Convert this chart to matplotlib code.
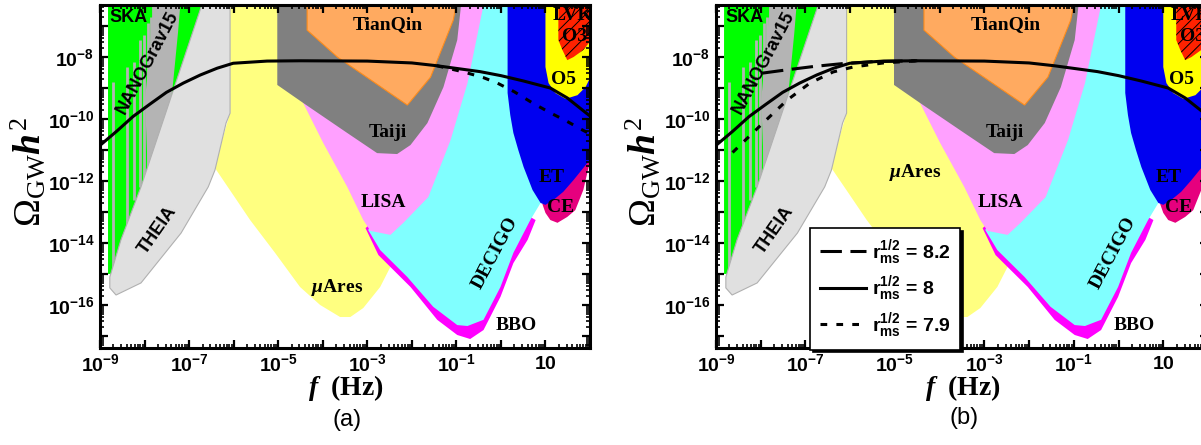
import numpy as np
import matplotlib
matplotlib.use("Agg")
import matplotlib.pyplot as plt
from matplotlib.ticker import LogLocator, FuncFormatter, NullFormatter

plt.rcParams["mathtext.fontset"] = "custom"
plt.rcParams["mathtext.rm"] = "Liberation Serif"
plt.rcParams["mathtext.it"] = "Liberation Serif:italic:bold"
plt.rcParams["mathtext.bf"] = "Liberation Serif:bold"
plt.rcParams["mathtext.sf"] = "Liberation Sans:bold"
plt.rcParams["hatch.linewidth"] = 0.7

# ---------------- sensitivity regions (log10 f [Hz], log10 Omega_GW h^2) ----------------
SKA_LF = [-8.82, -6.64, -8.73, -8.82]
SKA_LO = [-6.0, -6.0, -15.0, -15.0]

NANO_BAND_LF = [-7.76, -7.18, -7.25, -7.36, -7.47, -7.63, -7.76, -7.92, -7.99, -7.85]
NANO_BAND_LO = [-6.0, -6.0, -7.23, -8.84, -10.26, -11.32, -11.97, -11.97, -9.39, -7.23]
NANO_BIN_LF = [-8.70, -8.40, -8.23, -8.10, -8.01, -7.93, -7.86, -7.80, -7.75, -7.70, -7.66, -7.63, -7.59, -7.56]
NANO_BIN_TOP = [-8.81, -8.32, -8.15, -7.45, -7.30, -6.90, -6.70, -6.0, -6.0, -6.0, -6.0, -6.0, -6.0, -6.0]
NANO_BIN_BOT = [-15.10, -13.58, -12.60, -12.20, -11.90, -11.80, -11.70, -11.60, -11.50, -11.40, -11.30, -11.20, -11.00, -10.80]

THEIA_LF = [-6.64, -6.08, -6.08, -6.17, -6.42, -6.57, -7.18, -8.08, -8.64, -8.78, -8.78, -8.53, -8.08]
THEIA_LO = [-6.0, -6.0, -9.81, -10.13, -11.65, -12.19, -13.68, -15.29, -15.68, -15.45, -15.10, -13.90, -12.19]

MUARES_LF = [-6.08, -6.08, -6.26, -6.42, -6.01, -5.63, -5.07, -4.51, -4.06, -3.61, -3.38, -3.09,
             -2.71, -2.48, -2.26, -1.81, -1.36, -1.13]
MUARES_LO = [-6.0, -9.81, -10.68, -11.58, -12.45, -13.26, -14.32, -15.42, -16.0, -16.39, -16.39, -16.10,
             -15.42, -14.77, -14.13, -12.61, -10.03, -6.0]

LISA_LF = [-4.62, -4.44, -3.99, -3.45, -3.09, -2.93, -2.48, -2.19, -1.63, -1.13, -0.75, -0.39, -0.33]
LISA_LO = [-6.0, -9.48, -10.77, -12.19, -13.26, -13.61, -13.74, -13.35, -12.52, -10.68, -8.84, -6.32, -6.0]

TAIJI_LF = [-5.02, -5.02, -4.44, -3.45, -2.78, -2.33, -2.03, -1.65, -1.29, -0.98, -0.87]
TAIJI_LO = [-6.0, -8.90, -9.48, -10.45, -11.10, -11.13, -10.84, -10.13, -8.97, -7.45, -6.0]

TIANQIN_LF = [-4.35, -4.35, -3.67, -2.10, -1.58, -1.07, -0.96]
TIANQIN_LO = [-6.0, -7.13, -8.0, -9.55, -8.65, -6.81, -6.0]

DECIGO_LF = [-0.69, -1.36, -2.26, -2.98, -2.71, -2.10, -1.52, -0.98, -0.75, -0.39, -0.01, 0.28, 0.66, 0.89, 1.07, 1.16]
DECIGO_LO = [-6.0, -9.39, -11.97, -13.58, -14.23, -15.10, -16.06, -16.65, -16.68, -16.48, -15.42, -14.32, -13.26, -12.71, -11.0, -6.0]

BBO_LF = [-3.04, -2.75, -2.03, -1.43, -0.98, -0.69, -0.39, -0.01, 0.28, 0.60, 0.78, -0.01, -2.26]
BBO_LO = [-13.52, -14.39, -15.42, -16.48, -16.97, -17.10, -16.81, -15.74, -14.65, -13.90, -13.26, -12.61, -12.61]

ET_LF = [0.15, 0.15, 0.21, 0.28, 0.39, 0.51, 0.71, 0.89, 1.0, 1.18, 1.40, 1.63, 1.94, 2.24, 2.24]
ET_LO = [-6.0, -9.16, -9.87, -10.45, -11.0, -11.55, -12.29, -12.71, -12.77, -12.61, -12.35, -11.97, -11.42, -11.0, -6.0]

CE_LF = [0.93, 1.0, 1.11, 1.27, 1.49, 1.67, 1.85, 1.97, 2.24, 1.34]
CE_LO = [-12.74, -13.03, -13.26, -13.35, -13.16, -12.94, -12.29, -11.55, -11.0, -11.97]

O5_LF = [1.0, 1.0, 1.07, 1.22, 1.45, 1.72, 1.90, 2.01, 2.24, 2.24]
O5_LO = [-6.0, -8.32, -8.84, -9.16, -9.35, -9.23, -8.97, -8.65, -8.1, -6.0]

O3_LF = [1.29, 1.29, 1.38, 1.49, 1.63, 1.85, 1.97, 2.24, 2.24]
O3_LO = [-6.0, -7.45, -7.77, -8.10, -8.0, -7.77, -7.55, -7.13, -6.0]

# ---------------- spectra ----------------
SOLID_LF = [-9.0, -8.63, -8.26, -7.88, -7.51, -7.13, -6.75, -6.37, -6.01, -5.25, -4.5,
            -3.0, -2.0, -1.44, -0.47, 0.0, 0.5, 1.11, 1.49, 1.97, 2.05]
SOLID_LO = [-10.85, -10.40, -9.92, -9.52, -9.14, -8.84, -8.58, -8.36, -8.20, -8.13, -8.12,
            -8.13, -8.19, -8.28, -8.47, -8.60, -8.77, -9.0, -9.32, -9.87, -9.95]

DOTA_LF = [-1.44, -0.84, -0.4, -0.08, 0.3, 0.73, 1.11, 1.49, 1.8, 2.05]
DOTA_LO = [-8.28, -8.48, -8.66, -8.84, -9.12, -9.50, -9.80, -10.08, -10.33, -10.52]

DASH_B_LF = [-7.97, -7.35, -6.79, -6.16, -5.5, -4.88, -4.5]
DASH_B_LO = [-8.52, -8.40, -8.30, -8.21, -8.15, -8.13, -8.12]

DOT_B_LF = [-8.63, -7.95, -7.41, -6.90, -6.38, -5.93, -5.26, -4.5]
DOT_B_LO = [-11.08, -10.13, -9.39, -8.84, -8.48, -8.32, -8.19, -8.12]

R_LABELS = ["8.2", "8", "7.9"]

W, H = 1201, 445
fig = plt.figure(figsize=(W / 100, H / 100), dpi=100)


def p(v):
    return 10.0 ** np.asarray(v, dtype=float)


def region(ax, lf, lo, z, **kw):
    ax.fill(p(lf), p(lo), zorder=z, **kw)


def label(ax, s, lf, lo, serif=True, size=14, rot=0):
    fam = "Liberation Serif" if serif else "Liberation Sans"
    ax.text(p(lf), p(lo), s, family=fam, weight="bold", size=size, rotation=rot,
            ha="center", va="center", zorder=9, clip_on=True)


def xfmt(v, pos):
    e = int(round(np.log10(v)))
    if e % 2 == 0:
        return ""
    if e == 1:
        return r"$\mathsf{10}$"
    return r"$\mathsf{10^{%d}}$" % e


def yfmt(v, pos):
    e = int(round(np.log10(v)))
    if e % 2:
        return ""
    return r"$\mathsf{10^{%d}}$" % e


def panel(rect, mu_pos):
    ax = fig.add_axes(rect)
    ax.set_xscale("log")
    ax.set_yscale("log")
    ax.set_xlim(1e-9, 1e2)
    ax.set_ylim(10 ** -17.39, 10 ** -6.32)

    region(ax, MUARES_LF, MUARES_LO, 1, color="#FFFF80", lw=0)
    region(ax, BBO_LF, BBO_LO, 2, color="#FF00FF", lw=0)
    region(ax, DECIGO_LF, DECIGO_LO, 3, color="#80FFFF", lw=0)
    region(ax, LISA_LF, LISA_LO, 4, color="#FFA0FF", lw=0)
    region(ax, TAIJI_LF, TAIJI_LO, 5, color="#808080", lw=0)
    region(ax, TIANQIN_LF, TIANQIN_LO, 6, facecolor="#FFAA60", edgecolor="#FF8C1A", lw=0.8)
    region(ax, SKA_LF, SKA_LO, 2, color="#00FF00", lw=0)
    region(ax, NANO_BAND_LF, NANO_BAND_LO, 3, color="#B4B4B4", lw=0)
    ax.vlines(p(NANO_BIN_LF), p(NANO_BIN_BOT), p(NANO_BIN_TOP), colors="#B4B4B4", lw=2.0, zorder=3)
    region(ax, THEIA_LF, THEIA_LO, 4, facecolor="#E0E0E0", edgecolor="#B0B0B0", lw=0.8)
    region(ax, CE_LF, CE_LO, 4, color="#E6007E", lw=0)
    region(ax, ET_LF, ET_LO, 5, color="#0000F0", lw=0)
    region(ax, O5_LF, O5_LO, 6, color="#FFFF00", lw=0)
    region(ax, O3_LF, O3_LO, 7, facecolor="#FF2200", edgecolor="black", hatch="///", lw=0)

    label(ax, "SKA", -8.37, -6.71, serif=False, size=13)
    label(ax, "NANOGrav15", -7.94, -8.19, serif=False, size=13, rot=62)
    label(ax, "THEIA", -7.70, -13.58, serif=False, size=13, rot=55)
    label(ax, "TianQin", -2.53, -6.94)
    label(ax, "Taiji", -2.55, -10.45)
    label(ax, "LISA", -2.64, -12.71)
    label(ax, r"$\mu$Ares", mu_pos[0], mu_pos[1])
    label(ax, "DECIGO", -0.12, -14.32, rot=62)
    label(ax, "BBO", 0.35, -16.65)
    label(ax, "ET", 1.13, -11.90)
    label(ax, "CE", 1.34, -12.87)
    label(ax, "O5", 1.40, -8.74)
    label(ax, "O3", 1.65, -7.35)
    label(ax, "LVK", 1.61, -6.65)

    ax.xaxis.set_major_locator(LogLocator(base=10, numticks=30))
    ax.xaxis.set_minor_locator(LogLocator(base=10, subs=np.arange(2, 10), numticks=30))
    ax.yaxis.set_major_locator(LogLocator(base=10, numticks=30))
    ax.yaxis.set_minor_locator(LogLocator(base=10, subs=np.arange(2, 10), numticks=30))
    ax.xaxis.set_major_formatter(FuncFormatter(xfmt))
    ax.yaxis.set_major_formatter(FuncFormatter(yfmt))
    ax.xaxis.set_minor_formatter(NullFormatter())
    ax.yaxis.set_minor_formatter(NullFormatter())
    ax.tick_params(which="both", direction="in", top=True, right=True, labelsize=14)
    ax.tick_params(which="major", length=6, width=1.6, pad=4)
    ax.tick_params(which="minor", length=3, width=1.2)
    for sp in ax.spines.values():
        sp.set_linewidth(2.2)
        sp.set_zorder(20)
    ax.xaxis.set_zorder(20)
    ax.yaxis.set_zorder(20)

    ax.text(0.502, -0.117, r"$f\;$ (Hz)", transform=ax.transAxes, ha="center", va="center",
            family="Liberation Serif", weight="bold", size=20)
    ax.text(-0.147, 0.513, r"$\Omega_{\rm GW}h^2$", transform=ax.transAxes, ha="center",
            va="center", rotation=90, size=27)
    return ax


rect_a = [100 / W, (H - 348) / H, 490 / W, 343 / H]
rect_b = [716 / W, (H - 348) / H, 492 / W, 343 / H]

ax_a = panel(rect_a, (-3.67, -15.45))
ax_a.plot(p(SOLID_LF), p(SOLID_LO), color="black", lw=2.2, zorder=10)
ax_a.plot(p(DOTA_LF), p(DOTA_LO), color="black", lw=2.2, dashes=(2.2, 3.0), zorder=10)

ax_b = panel(rect_b, (-4.55, -11.71))
l1, = ax_b.plot(p(DASH_B_LF), p(DASH_B_LO), color="black", lw=2.2, dashes=(7, 2.8), zorder=10)
l2, = ax_b.plot(p(SOLID_LF), p(SOLID_LO), color="black", lw=2.2, zorder=10)
l3, = ax_b.plot(p(DOT_B_LF), p(DOT_B_LO), color="black", lw=2.2, dashes=(2.2, 3.0), zorder=10)

leg = ax_b.legend([l1, l2, l3],
                  [r"$\mathsf{r_{ms}^{1/2}}$ = " + r for r in R_LABELS],
                  loc="upper left", bbox_to_anchor=(0.191, 0.350), borderaxespad=0,
                  prop={"family": "Liberation Sans", "weight": "bold", "size": 14},
                  handlelength=2.4, handletextpad=0.3, labelspacing=0.4, borderpad=0.5,
                  fancybox=False, framealpha=1, edgecolor="black",
                  shadow={"color": "black", "alpha": 1})
leg.get_frame().set_linewidth(1.2)
leg.set_zorder(30)

fig.text(347 / W, 1 - 420 / H, "(a)", ha="center", va="center", family="Liberation Sans", size=17)
fig.text(964 / W, 1 - 418 / H, "(b)", ha="center", va="center", family="Liberation Sans", size=17)

fig.savefig("out.png", dpi=100)
